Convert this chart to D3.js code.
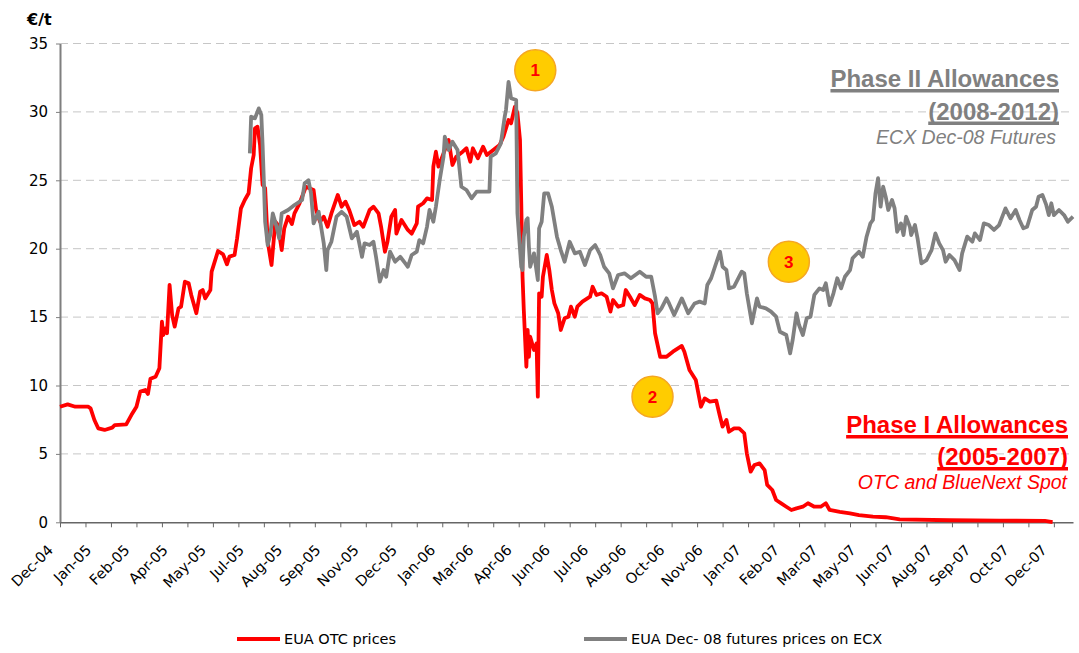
<!DOCTYPE html>
<html>
<head>
<meta charset="utf-8">
<script src="https://cdn.jsdelivr.net/npm/d3@7"></script>
<style>
  body { margin: 0; background: #fff; }
  svg text { font-family: "DejaVu Sans", Verdana, sans-serif; }
  .note { font-family: "Liberation Sans", Arial, sans-serif !important; }
</style>
</head>
<body>
<div class="canvas"></div>
<script>
// trading-day index on the category axis, and prices (€/t)
const otcDay = [0, 6, 12, 22, 24, 27, 30, 35, 41, 43, 52, 56, 60, 63, 67, 69, 71, 75, 78, 80, 81, 83, 84, 86, 88, 90, 93, 95, 98, 101, 103, 107, 110, 112, 114, 118, 119, 124, 128, 131, 133, 137, 139, 142, 145, 148, 150, 152, 153, 155, 157, 159, 161, 163, 166, 169, 171, 174, 176, 179, 182, 184, 188, 193, 199, 201, 204, 207, 210, 213, 218, 221, 224, 227, 231, 235, 238, 243, 246, 250, 252, 255, 257, 260, 263, 264, 268, 273, 276, 280, 281, 285, 288, 292, 293, 295, 297, 301, 305, 308, 311, 316, 319, 322, 324, 328, 332, 335, 340, 345, 348, 352, 354, 357, 359, 361, 362, 363, 364, 366, 367, 368, 369, 372, 374, 375, 376, 378, 379, 382, 384, 386, 388, 391, 393, 396, 399, 401, 404, 406, 410, 416, 418, 421, 425, 429, 432, 434, 438, 442, 444, 448, 451, 455, 459, 463, 465, 467, 471, 476, 481, 488, 490, 494, 499, 503, 506, 510, 515, 518, 520, 523, 525, 529, 533, 537, 539, 542, 545, 549, 553, 555, 559, 562, 566, 570, 574, 578, 583, 587, 592, 597, 601, 604, 612, 620, 627, 638, 648, 659, 698, 737, 773, 779];
const otcPrice = [8.45, 8.62, 8.45, 8.45, 8.33, 7.48, 6.87, 6.75, 6.92, 7.11, 7.16, 7.84, 8.45, 9.55, 9.67, 9.38, 10.5, 10.64, 11.26, 14.67, 13.69, 14.18, 13.82, 17.35, 15.15, 14.3, 15.64, 15.76, 17.59, 17.47, 16.62, 15.28, 16.86, 16.98, 16.37, 16.98, 18.32, 19.83, 19.59, 18.86, 19.42, 19.54, 20.76, 22.95, 23.56, 24.05, 25.88, 26.85, 28.8, 28.92, 27.58, 24.66, 24.42, 20.51, 18.81, 21.97, 21.73, 19.9, 21.49, 22.34, 21.8, 22.58, 23.32, 24.53, 24.29, 22.83, 21.97, 22.34, 21.6, 22.58, 23.93, 23.07, 23.44, 22.83, 21.73, 21.97, 21.6, 22.83, 23.07, 22.58, 21.6, 19.78, 20.51, 22.34, 22.83, 21.1, 22.1, 21.37, 21.1, 21.85, 23.07, 23.32, 23.68, 23.56, 26.0, 27.09, 26.0, 26.97, 27.95, 26.12, 26.73, 27.09, 27.34, 26.36, 27.34, 26.61, 27.46, 26.85, 27.21, 27.58, 28.19, 29.41, 29.17, 30.38, 29.9, 27.95, 23.32, 17.95, 15.5, 11.37, 14.06, 12.1, 13.57, 12.6, 13.08, 9.18, 16.74, 16.49, 17.95, 19.54, 18.44, 16.98, 16.0, 15.28, 14.06, 14.91, 15.03, 15.76, 15.03, 15.76, 16.13, 16.49, 17.22, 16.62, 16.74, 16.49, 15.4, 16.25, 15.76, 15.88, 16.98, 16.37, 15.88, 16.62, 16.37, 16.25, 16.0, 13.82, 12.1, 12.1, 12.47, 12.89, 12.47, 11.13, 10.4, 8.45, 9.06, 8.82, 8.9, 7.72, 6.99, 7.48, 6.62, 6.87, 6.87, 6.51, 5.04, 3.7, 4.19, 4.31, 3.82, 2.73, 2.36, 1.63, 1.39, 1.14, 0.9, 1.02, 1.14, 1.39, 1.14, 1.14, 1.39, 0.9, 0.77, 0.66, 0.53, 0.41, 0.37, 0.22, 0.15, 0.12, 0.1, 0.02];

const ecxDay = [149, 150, 153, 156, 158, 159, 160, 161, 163, 165, 167, 170, 172, 174, 179, 184, 190, 192, 195, 197, 199, 203, 207, 209, 210, 213, 217, 221, 225, 229, 233, 237, 239, 243, 246, 248, 251, 254, 256, 259, 263, 267, 271, 273, 276, 280, 282, 285, 288, 290, 293, 295, 298, 301, 302, 305, 308, 312, 315, 319, 323, 327, 332, 337, 338, 342, 346, 349, 350, 352, 354, 358, 359, 362, 363, 364, 366, 367, 368, 369, 372, 375, 376, 378, 380, 383, 386, 390, 393, 396, 400, 404, 408, 412, 416, 420, 424, 427, 431, 434, 438, 443, 448, 455, 460, 464, 467, 469, 472, 476, 478, 482, 488, 493, 498, 502, 506, 508, 511, 514, 518, 520, 523, 525, 529, 535, 537, 539, 543, 547, 549, 554, 558, 562, 565, 570, 573, 575, 578, 580, 583, 586, 589, 592, 596, 599, 601, 604, 607, 610, 613, 616, 620, 622, 627, 630, 633, 636, 638, 640, 642, 644, 646, 648, 650, 653, 655, 657, 660, 662, 664, 667, 668, 671, 673, 676, 680, 684, 687, 690, 693, 695, 698, 702, 706, 708, 712, 716, 718, 722, 725, 729, 733, 737, 742, 746, 750, 753, 756, 759, 763, 766, 768, 771, 774, 776, 778, 780, 784, 788, 791, 795];
const ecxPrice = [26.97, 29.65, 29.53, 30.26, 29.77, 27.58, 24.9, 21.97, 20.27, 21.0, 22.58, 21.6, 20.76, 22.58, 22.83, 23.19, 23.56, 24.78, 25.0, 24.05, 21.85, 22.7, 20.39, 18.44, 19.9, 20.51, 22.34, 22.7, 22.34, 20.76, 21.24, 19.41, 20.39, 20.27, 20.51, 19.41, 17.59, 18.44, 17.95, 19.78, 19.05, 19.41, 18.93, 18.68, 19.54, 19.78, 20.63, 20.39, 21.6, 22.83, 21.97, 23.07, 25.02, 26.73, 28.19, 27.21, 27.82, 27.21, 24.53, 24.29, 23.68, 24.17, 24.17, 24.17, 26.73, 26.97, 27.7, 29.65, 30.14, 32.2, 31.0, 30.87, 22.58, 18.68, 18.44, 20.88, 22.1, 22.22, 20.15, 18.68, 19.66, 17.71, 21.49, 21.97, 24.05, 24.05, 23.07, 20.88, 19.9, 19.05, 20.51, 19.66, 19.78, 18.81, 19.9, 20.27, 19.54, 18.68, 18.2, 17.1, 18.08, 18.2, 17.84, 18.32, 17.95, 17.95, 16.49, 15.28, 15.64, 16.37, 16.0, 15.15, 16.37, 15.28, 16.0, 16.13, 16.0, 17.35, 17.84, 18.68, 19.78, 18.68, 18.44, 17.1, 17.22, 18.32, 18.2, 16.74, 14.55, 16.37, 15.76, 15.64, 15.4, 15.03, 13.93, 13.69, 12.35, 13.33, 15.28, 14.42, 13.69, 14.91, 15.03, 16.62, 17.1, 16.98, 17.47, 15.88, 16.74, 17.84, 17.1, 17.95, 18.44, 19.3, 19.78, 19.41, 20.88, 21.85, 22.1, 24.05, 25.15, 23.07, 24.53, 23.8, 22.83, 23.56, 22.95, 21.24, 21.85, 21.0, 22.34, 21.6, 21.0, 21.73, 20.76, 18.93, 19.17, 19.9, 21.12, 20.39, 19.9, 19.05, 19.54, 19.17, 18.44, 19.66, 20.88, 20.51, 21.12, 20.63, 21.85, 21.73, 21.37, 21.73, 22.95, 22.22, 22.83, 22.1, 21.49, 21.6, 22.83, 23.07, 23.8, 23.93, 23.2, 22.46, 23.32, 22.46, 22.83, 22.46, 21.97, 22.34];

const tickLabels = ['Dec-04', 'Jan-05', 'Feb-05', 'Apr-05', 'May-05', 'Jul-05', 'Aug-05', 'Sep-05', 'Nov-05', 'Dec-05', 'Jan-06', 'Mar-06', 'Apr-06', 'Jun-06', 'Jul-06', 'Aug-06', 'Oct-06', 'Nov-06', 'Jan-07', 'Feb-07', 'Mar-07', 'May-07', 'Jun-07', 'Aug-07', 'Sep-07', 'Oct-07', 'Dec-07'];
const yTicks = [0, 5, 10, 15, 20, 25, 30, 35];

// annotation bubbles: [label, trading day, price]
const bubbleLabels = ['1', '2', '3'];
const bubbleDay = [373, 465, 572];
const bubblePrice = [33.05, 9.18, 19.05];

const svg = d3.select('.canvas')
    .append('svg')
    .attr('width', 1079)
    .attr('height', 653);

const x = d3.scaleLinear().domain([0, 795]).range([60, 1073]);
const y = d3.scaleLinear().domain([0, 35]).range([522.3, 43.5]);

// dashed grid
svg.append('g')
    .selectAll('line')
    .data(yTicks.filter(d => d > 0))
    .enter()
    .append('line')
    .attr('x1', 60).attr('x2', 1073)
    .attr('y1', d => y(d)).attr('y2', d => y(d))
    .attr('stroke', '#c6c6c6')
    .attr('stroke-dasharray', '8,5');

// y axis
const yAxis = svg.append('g')
    .attr('transform', 'translate(60,0)')
    .call(d3.axisLeft(y).tickValues(yTicks).tickSize(4).tickSizeOuter(0).tickPadding(8));
yAxis.select('.domain').attr('stroke', '#7f7f7f').attr('stroke-width', 2);
yAxis.selectAll('line').attr('stroke', '#7f7f7f');
yAxis.selectAll('text').attr('font-size', 15).attr('fill', '#000')
    .style('font-family', '"DejaVu Sans", Verdana, sans-serif');

// x axis: marks every 20 days, labels every 30
const xAxis = svg.append('g')
    .attr('transform', `translate(0,${y(0)})`)
    .call(d3.axisBottom(x).tickValues(d3.range(0, 781, 20)).tickSize(5).tickSizeOuter(0).tickFormat(''));
xAxis.select('.domain').attr('stroke', '#666').attr('stroke-width', 1.5);
xAxis.selectAll('line').attr('stroke', '#666');

svg.append('g')
    .selectAll('text')
    .data(tickLabels)
    .enter()
    .append('text')
    .attr('text-anchor', 'end')
    .attr('transform', (d, i) => `translate(${x(i * 30) - 6},551) rotate(-45)`)
    .attr('font-size', 14.5)
    .text(d => d);

// unit
svg.append('text')
    .attr('x', 27).attr('y', 25)
    .attr('font-size', 16).attr('font-weight', 'bold')
    .text('€/t');

// lines
const otc = otcDay.map((d, i) => ({ day: d, price: otcPrice[i] }));
const ecx = ecxDay.map((d, i) => ({ day: d, price: ecxPrice[i] }));

const line = d3.line()
    .x(d => x(d.day))
    .y(d => y(d.price));

svg.append('path')
    .datum(otc)
    .attr('fill', 'none')
    .attr('stroke', '#ff0000')
    .attr('stroke-width', 3.8)
    .attr('stroke-linejoin', 'round')
    .attr('d', line);

svg.append('path')
    .datum(ecx)
    .attr('fill', 'none')
    .attr('stroke', '#808080')
    .attr('stroke-width', 3.8)
    .attr('stroke-linejoin', 'round')
    .attr('d', line);

// bubbles
const bubbles = svg.append('g')
    .selectAll('g')
    .data(bubbleLabels)
    .enter()
    .append('g')
    .attr('transform', (d, i) => `translate(${x(bubbleDay[i])},${y(bubblePrice[i])})`);

bubbles.append('circle')
    .attr('r', 20.5)
    .attr('fill', '#ffcc00')
    .attr('stroke', '#f5a623')
    .attr('stroke-width', 1.5);

bubbles.append('text')
    .attr('class', 'note')
    .attr('text-anchor', 'middle')
    .attr('dy', 6)
    .attr('font-size', 17)
    .attr('font-weight', 'bold')
    .attr('fill', '#ff0000')
    .text(d => d);

// phase labels
function note(txt, xr, yb, size, color, bold, italic, underline) {
    const t = svg.append('text')
        .attr('class', 'note')
        .attr('x', xr).attr('y', yb)
        .attr('text-anchor', 'end')
        .attr('font-size', size)
        .attr('font-weight', bold ? 'bold' : 'normal')
        .attr('font-style', italic ? 'italic' : 'normal')
        .attr('fill', color)
        .text(txt);
    if (underline) {
        const w = t.node().getComputedTextLength();
        svg.append('rect')
            .attr('x', xr - w).attr('y', yb + 2)
            .attr('width', w).attr('height', 3.5)
            .attr('fill', color);
    }
}

note('Phase II Allowances', 1059, 87, 24, '#808080', true, false, true);
note('(2008-2012)', 1059, 119.5, 24, '#808080', true, false, true);
note('ECX Dec-08 Futures', 1056, 144, 19.5, '#808080', false, true, false);

note('Phase I Allowances', 1068, 433, 24, '#ff0000', true, false, true);
note('(2005-2007)', 1068, 465, 24, '#ff0000', true, false, true);
note('OTC and BlueNext Spot', 1067, 489, 19.5, '#ff0000', false, true, false);

// legend
const legend = [['EUA OTC prices', '#ff0000', 237], ['EUA Dec- 08 futures prices on ECX', '#808080', 584]];
const lg = svg.append('g')
    .selectAll('g')
    .data(legend)
    .enter()
    .append('g')
    .attr('transform', d => `translate(${d[2]},639)`);

lg.append('line')
    .attr('x1', 0).attr('x2', 43)
    .attr('stroke', d => d[1])
    .attr('stroke-width', 4);

lg.append('text')
    .attr('x', 47).attr('y', 5)
    .attr('font-size', 14.5)
    .text(d => d[0]);
</script>
</body>
</html>
